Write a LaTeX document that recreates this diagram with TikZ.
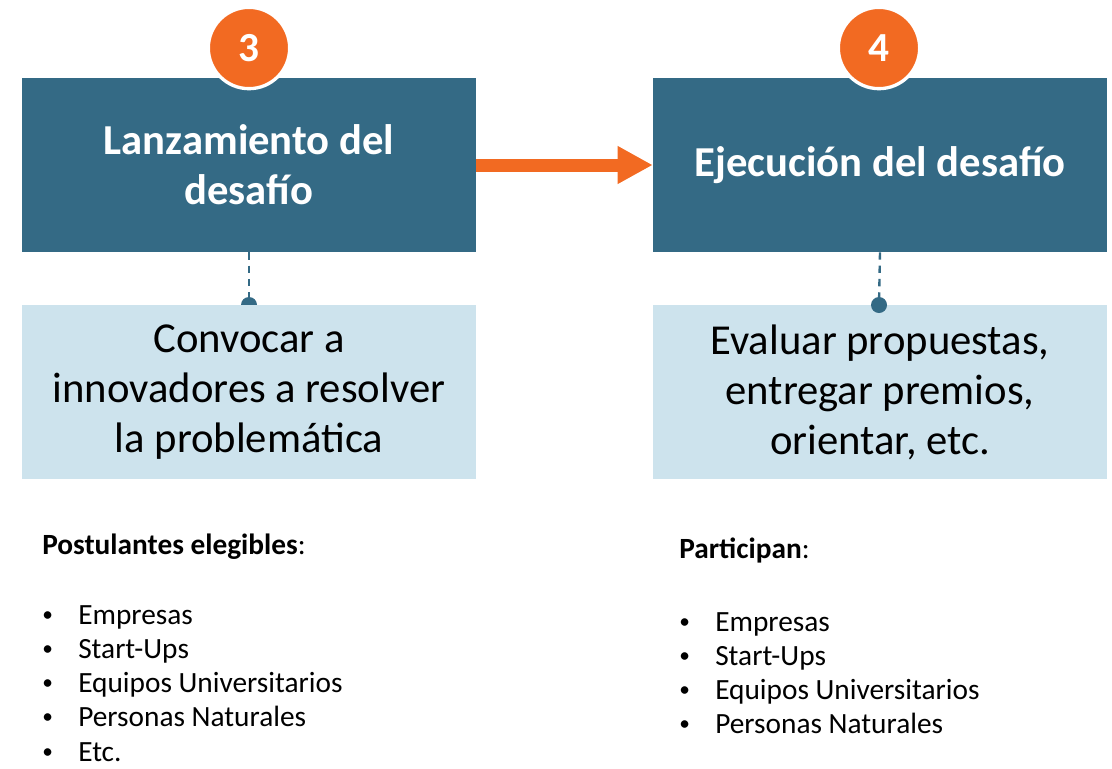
\documentclass[tikz,border=0pt]{standalone}
\usepackage{fontspec}
\setmainfont{Carlito}
\usetikzlibrary{arrows.meta}
\definecolor{darkblue}{RGB}{52,106,133}
\definecolor{lightblue}{RGB}{205,227,237}
\definecolor{orangeC}{RGB}{242,106,34}
\tikzset{
  darkbox/.style={fill=darkblue, draw=none, minimum width=340.5pt, minimum height=130.5pt, inner sep=0pt, text=white, align=center, font=\fontsize{32}{37.5}\selectfont\bfseries},
  lightbox/.style={fill=lightblue, draw=none, minimum width=340.5pt, minimum height=130.5pt, inner sep=0pt, text=black, align=center, font=\fontsize{32}{37.5}\selectfont},
  numcircle/.style={circle, fill=orangeC, draw=white, line width=2.5pt, minimum size=61pt, inner sep=0pt, text=white, font=\fontsize{31}{34}\selectfont\bfseries},
  dashlink/.style={draw=darkblue, line width=1.8pt, dash pattern=on 5.5pt off 4.5pt},
  enddot/.style={circle, fill=darkblue, draw=none, minimum size=12pt, inner sep=0pt},
  listhead/.style={anchor=base west, inner sep=0pt, font=\fontsize{22}{26}\selectfont},
  listitem/.style={anchor=base west, inner sep=0pt, font=\fontsize{22}{26}\selectfont},
  bulletmark/.style={anchor=base west, inner sep=0pt, font=\fontsize{16}{20}\selectfont},
  flowarrow/.style={draw=orangeC, line width=9.75pt, -{Triangle[length=26.25pt,width=26.5pt]}}
}
\begin{document}
\begin{tikzpicture}[x=0.75pt, y=-0.75pt]
\useasboundingbox (0,0) rectangle (1112,768);
% dark boxes
\node[darkbox] (b1) at (249,165) {Lanzamiento del\\desafío};
\node[darkbox] (b2) at (880,165) {Ejecución del desafío};
% number circles
\node[numcircle] (c3) at (249,48) {3};
\node[numcircle] (c4) at (879,48) {4};
% arrow
\draw[flowarrow] (b1.east) -- (b2.west);
% left connector (dot under the light box)
\coordinate (d1) at (249,305);
\draw[dashlink] (b1.south) -- (d1);
\node[enddot] (dot1) at (d1) {};
\node[lightbox] (l1) at (249,392) {Convocar a\\innovadores a resolver\\la problemática};
% right connector (dot over the light box)
\node[lightbox] (l2) at (880,392) {Evaluar propuestas,\\entregar premios,\\orientar, etc.};
\coordinate (d2) at (879,305);
\draw[dashlink] (b2.south) -- (d2);
\node[enddot] (dot2) at (d2) {};
% left list
\node[listhead] (h1) at (42,554) {\textbf{Postulantes elegibles}:};
\node[bulletmark] (p1) at (42,621) {•};
\node[listitem] (t1) at (78,624) {Empresas};
\node[bulletmark] (p2) at (42,655) {•};
\node[listitem] (t2) at (78,658) {Start-Ups};
\node[bulletmark] (p3) at (42,689) {•};
\node[listitem] (t3) at (78,692) {Equipos Universitarios};
\node[bulletmark] (p4) at (42,723) {•};
\node[listitem] (t4) at (78,726) {Personas Naturales};
\node[bulletmark] (p5) at (42,758) {•};
\node[listitem] (t5) at (78,761) {Etc.};
% right list
\node[listhead] (h2) at (679,558) {\textbf{Participan}:};
\node[bulletmark] (q1) at (679,628) {•};
\node[listitem] (s1) at (715,631) {Empresas};
\node[bulletmark] (q2) at (679,662) {•};
\node[listitem] (s2) at (715,665) {Start-Ups};
\node[bulletmark] (q3) at (679,696) {•};
\node[listitem] (s3) at (715,699) {Equipos Universitarios};
\node[bulletmark] (q4) at (679,730) {•};
\node[listitem] (s4) at (715,733) {Personas Naturales};
\end{tikzpicture}
\end{document}
